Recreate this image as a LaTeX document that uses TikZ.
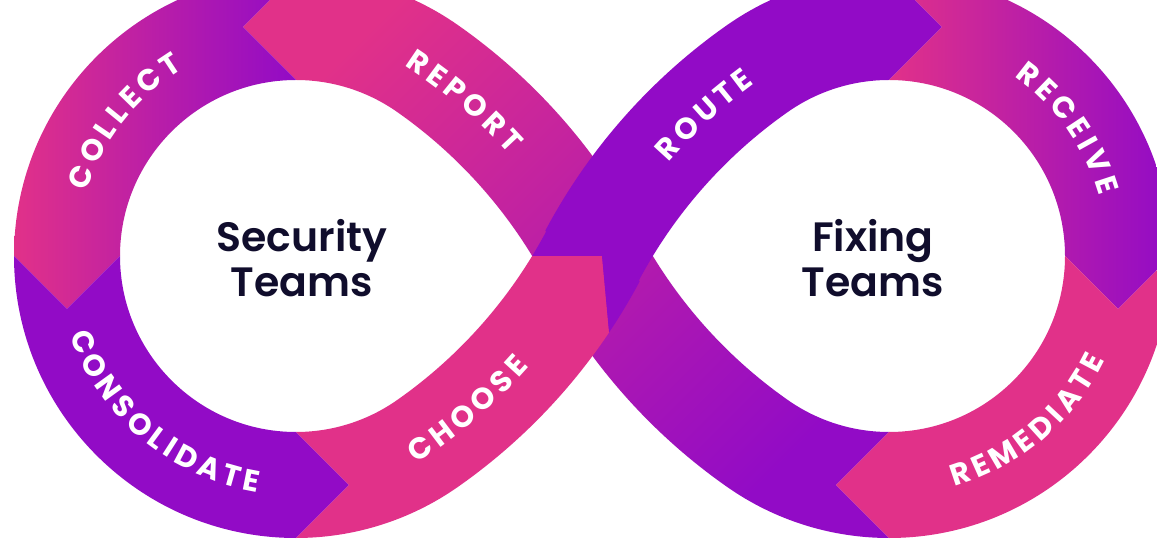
\documentclass[tikz,border=0pt]{standalone}
\usepackage{fontspec}
\usetikzlibrary{calc,decorations.text}
\newfontfamily\labfont{Poppins Bold}
\newfontfamily\headfont{Poppins SemiBold}
\definecolor{flowpink}{HTML}{E13189}
\definecolor{flowpurple}{HTML}{920BC6}
\definecolor{inkblue}{HTML}{100D2C}
\newcommand\lf{\labfont\fontsize{30}{30}\selectfont\color{white}}
\newcommand\gp{\kern4.5pt}

\begin{document}
\begin{tikzpicture}[x=1pt,y=1pt,
  lbl/.style={decorate,decoration={text along path,text align=center,text={|\lf|#1}}},
  heading/.style={font=\headfont\fontsize{41}{41}\selectfont,text=inkblue,anchor=base,inner sep=0pt}]

\useasboundingbox (0,0) rectangle (1157,544);
\fill[white] (0,0) rectangle (1157,544);
\clip (0,0) rectangle (1157,544);

% loop centres and centres of the four bends towards the crossing
\coordinate (C1) at (296,288);
\coordinate (C2) at (889,288);
\coordinate (D1) at (120.49,37.34);
\coordinate (D2) at (120.49,538.66);
\coordinate (D3) at (1064.51,37.34);
\coordinate (D4) at (1064.51,538.66);
% arrow tips on the loops
\coordinate (hReport) at (243,517);
\coordinate (hCollect) at (67,235);
\coordinate (hConsol) at (349,59);
\coordinate (hRoute) at (942,517);
\coordinate (hReceive) at (1118,235);
\coordinate (hRemed) at (836,59);
% arrow tip of CHOOSE at the crossing
\coordinate (hChoose) at (602,288);

% REPORT band (runs under the crossing)
\shade[top color=flowpink,bottom color=flowpurple,shading angle=45]
  ($(C2)+(270:282pt)$) -- (hRemed) -- ($(C2)+(270:176pt)$)
  arc[start angle=270,end angle=235,radius=176pt]
  -- ($(D4)+(235:482pt)$) arc[start angle=235,end angle=208,radius=482pt]
  -- ($(D1)+(28:588pt)$) arc[start angle=28,end angle=55,radius=588pt]
  -- ($(C1)+(55:282pt)$) arc[start angle=55,end angle=90,radius=282pt]
  -- (hReport) -- ($(C1)+(90:176pt)$)
  arc[start angle=90,end angle=55,radius=176pt]
  -- ($(D1)+(55:482pt)$) arc[start angle=55,end angle=28,radius=482pt]
  -- ($(D4)+(208:588pt)$) arc[start angle=208,end angle=235,radius=588pt]
  -- ($(C2)+(235:282pt)$) arc[start angle=235,end angle=270,radius=282pt]
  -- cycle;

% COLLECT
\shade[left color=flowpink,right color=flowpurple]
  ($(C1)+(90:176pt)$) -- (hReport) -- ($(C1)+(90:282pt)$)
  arc[start angle=90,end angle=180,radius=282pt]
  -- (hCollect) -- ($(C1)+(180:176pt)$)
  arc[start angle=180,end angle=90,radius=176pt] -- cycle;

% CONSOLIDATE
\fill[flowpurple]
  ($(C1)+(180:176pt)$) -- (hCollect) -- ($(C1)+(180:282pt)$)
  arc[start angle=180,end angle=270,radius=282pt]
  -- (hConsol) -- ($(C1)+(270:176pt)$)
  arc[start angle=270,end angle=180,radius=176pt] -- cycle;

% CHOOSE
\fill[flowpink]
  ($(C1)+(270:176pt)$) -- (hConsol) -- ($(C1)+(270:282pt)$)
  arc[start angle=270,end angle=305,radius=282pt]
  -- ($(D2)+(-55:588pt)$) arc[start angle=-55,end angle=-33.8,radius=588pt]
  -- (hChoose) -- ($(D2)+(-31.33:482pt)$)
  arc[start angle=-31.33,end angle=-55,radius=482pt]
  -- ($(C1)+(305:176pt)$) arc[start angle=305,end angle=270,radius=176pt]
  -- cycle;

% ROUTE
\fill[flowpurple]
  ($(D2)+(-31.33:482pt)$) arc[start angle=-31.33,end angle=-28,radius=482pt]
  -- ($(D3)+(152:588pt)$) arc[start angle=152,end angle=125,radius=588pt]
  -- ($(C2)+(125:282pt)$) arc[start angle=125,end angle=90,radius=282pt]
  -- (hRoute) -- ($(C2)+(90:176pt)$)
  arc[start angle=90,end angle=125,radius=176pt]
  -- ($(D3)+(125:482pt)$) arc[start angle=125,end angle=152,radius=482pt]
  -- ($(D2)+(-28:588pt)$) arc[start angle=-28,end angle=-33.8,radius=588pt]
  -- (hChoose) -- cycle;

% RECEIVE
\shade[left color=flowpink,right color=flowpurple]
  ($(C2)+(90:176pt)$) -- (hRoute) -- ($(C2)+(90:282pt)$)
  arc[start angle=90,end angle=0,radius=282pt]
  -- (hReceive) -- ($(C2)+(0:176pt)$)
  arc[start angle=0,end angle=90,radius=176pt] -- cycle;

% REMEDIATE
\fill[flowpink]
  ($(C2)+(0:176pt)$) -- (hReceive) -- ($(C2)+(0:282pt)$)
  arc[start angle=0,end angle=-90,radius=282pt]
  -- (hRemed) -- ($(C2)+(-90:176pt)$)
  arc[start angle=-90,end angle=0,radius=176pt] -- cycle;

% step labels along the band
\path[lbl={{C\gp}{O\gp}{L\gp}{L\gp}{E\gp}{C\gp}T}]
  ($(C1)+(176:218.5pt)$) arc[start angle=176,end angle=108,radius=218.5pt];
\path[lbl={{R\gp}{E\gp}{P\gp}{O\gp}{R\gp}T}]
  ($(D1)+(64:524.5pt)$) arc[start angle=64,end angle=35.4,radius=524.5pt];
\path[lbl={{C\gp}{O\gp}{N\gp}{S\gp}{O\gp}{L\gp}{I\gp}{D\gp}{A\gp}{T\gp}E}]
  ($(C1)+(190:239.5pt)$) arc[start angle=190,end angle=270,radius=239.5pt];
\path[lbl={{C\gp}{H\gp}{O\gp}{O\gp}{S\gp}E}]
  ($(D2)+(-63:545.5pt)$) arc[start angle=-63,end angle=-35.6,radius=545.5pt];
\path[lbl={{R\gp}{O\gp}{U\gp}{T\gp}E}]
  ($(D3)+(146:524.5pt)$) arc[start angle=146,end angle=119.2,radius=524.5pt];
\path[lbl={{R\gp}{E\gp}{C\gp}{E\gp}{I\gp}{V\gp}E}]
  ($(C2)+(70:218.5pt)$) arc[start angle=70,end angle=1.2,radius=218.5pt];
\path[lbl={{R\gp}{E\gp}{M\gp}{E\gp}{D\gp}{I\gp}{A\gp}{T\gp}E}]
  ($(C2)+(-95:239.5pt)$) arc[start angle=-95,end angle=-5,radius=239.5pt];

% team names inside the loops
\node[heading] (secA) at (302,292) {Security};
\node[heading] (secB) at (302,247) {Teams};
\node[heading] (fixA) at (873,292) {Fixing};
\node[heading] (fixB) at (873,247) {Teams};
\end{tikzpicture}
\end{document}
